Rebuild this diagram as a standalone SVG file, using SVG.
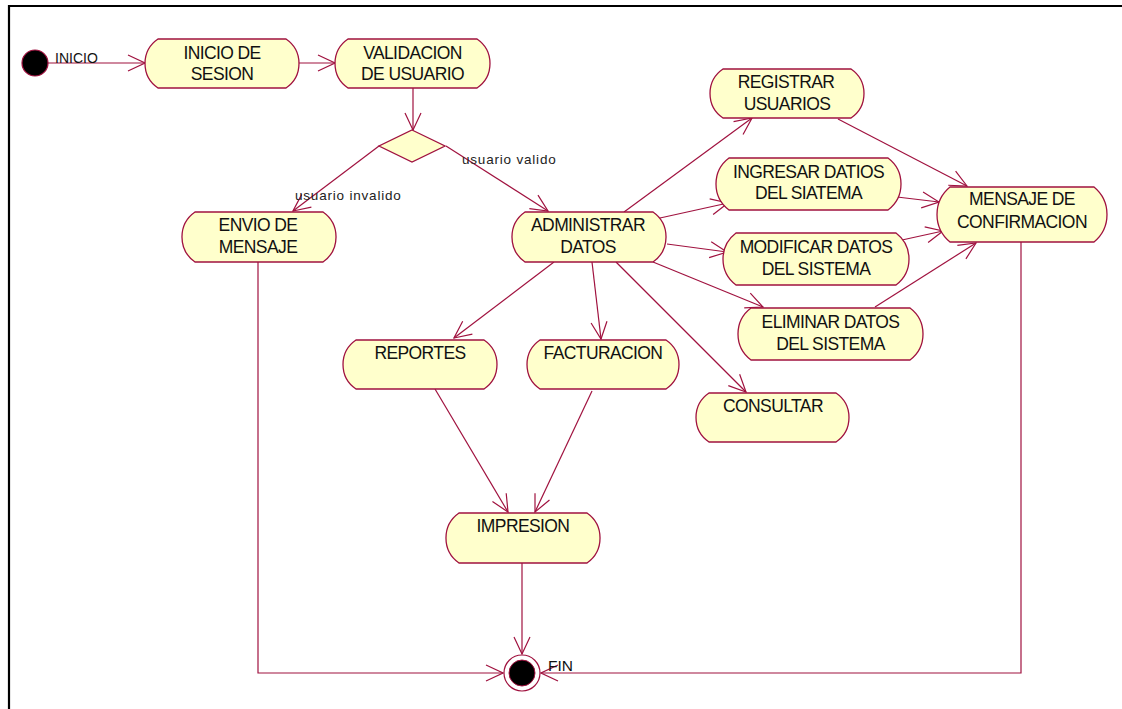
<svg xmlns="http://www.w3.org/2000/svg" width="1122" height="709" viewBox="0 0 1122 709">
  <defs>
    <style>
      .act { fill: #FFFFCC; stroke: #A0123F; stroke-width: 1.3; }
      .lbl { font-family: "Liberation Sans", Arial, sans-serif; font-size: 17.5px; letter-spacing: -0.6px; fill: #111; text-anchor: middle; }
      .note { font-family: "Liberation Sans", Arial, sans-serif; font-size: 13.5px; letter-spacing: 0.8px; fill: #222; }
      .edge { fill: none; stroke: #A0123F; stroke-width: 1.2; }
      .arr { marker-end: url(#open); }
    </style>
    <marker id="open" viewBox="0 0 19 18" refX="18" refY="9" markerWidth="19" markerHeight="18" markerUnits="userSpaceOnUse" orient="auto">
      <path d="M1,1 L18,9 L1,17" fill="none" stroke="#A0123F" stroke-width="1.2"/>
    </marker>
  </defs>

  <rect width="1122" height="709" fill="#ffffff"/>
  <!-- frame -->
  <path d="M9,709 V6 H1122" fill="none" stroke="#000" stroke-width="2.2"/>

  <!-- connectors -->
  <g id="connectors">
    <line class="edge arr" x1="48" y1="63" x2="145" y2="63"/>
    <line class="edge arr" x1="299" y1="63" x2="335" y2="63"/>
    <line class="edge arr" x1="413" y1="88" x2="413" y2="130"/>
    <line class="edge arr" x1="379" y1="146" x2="293" y2="211"/>
    <line class="edge arr" x1="446" y1="146" x2="548" y2="211"/>
    <line class="edge arr" x1="624" y1="212" x2="752" y2="118"/>
    <line class="edge arr" x1="660" y1="218" x2="728" y2="203"/>
    <line class="edge arr" x1="667" y1="244" x2="727" y2="252"/>
    <line class="edge arr" x1="653" y1="262" x2="763" y2="307"/>
    <line class="edge arr" x1="616" y1="262" x2="746" y2="392"/>
    <line class="edge arr" x1="592" y1="262" x2="601" y2="339"/>
    <line class="edge arr" x1="554" y1="262" x2="454" y2="338"/>
    <line class="edge arr" x1="838" y1="119" x2="967" y2="186"/>
    <line class="edge arr" x1="897" y1="197" x2="939" y2="202"/>
    <line class="edge arr" x1="902" y1="240" x2="943" y2="231"/>
    <line class="edge arr" x1="875" y1="307" x2="976" y2="243"/>
    <line class="edge arr" x1="435" y1="389" x2="508" y2="512"/>
    <line class="edge arr" x1="592" y1="391" x2="535" y2="512"/>
    <line class="edge arr" x1="522" y1="563" x2="522" y2="654"/>
    <polyline class="edge arr" points="258,262 258,673 503,673"/>
    <polyline class="edge arr" points="1021,242 1021,673 541,673"/>
    <text class="note" x="295" y="200">usuario invalido</text>
    <text class="note" x="462" y="164">usuario valido</text>
  </g>

  <!-- start -->
  <g id="start">
    <circle cx="35" cy="63" r="13" fill="#000" stroke="#A0123F" stroke-width="1.2"/>
    <text x="55" y="63" font-family="Liberation Sans, Arial, sans-serif" font-size="14" fill="#111">INICIO</text>
  </g>

  <g id="inicio-sesion">
    <path class="act" d="M158,39 H286 A29.6,29.6 0 0 1 286,88 H158 A29.6,29.6 0 0 1 158,39 Z"/>
    <text class="lbl" x="222" y="59">INICIO DE</text>
    <text class="lbl" x="222" y="80">SESION</text>
  </g>

  <g id="validacion">
    <path class="act" d="M348,39 H477 A29.6,29.6 0 0 1 477,88 H348 A29.6,29.6 0 0 1 348,39 Z"/>
    <text class="lbl" x="412.5" y="59">VALIDACION</text>
    <text class="lbl" x="412.5" y="80">DE USUARIO</text>
  </g>

  <g id="decision">
    <polygon class="act" points="412,130 445,146 412,162 379,146"/>
  </g>

  <g id="envio-mensaje">
    <path class="act" d="M195,212 H323 A30.5,30.5 0 0 1 323,262 H195 A30.5,30.5 0 0 1 195,212 Z"/>
    <text class="lbl" x="258" y="231">ENVIO DE</text>
    <text class="lbl" x="258" y="253">MENSAJE</text>
  </g>

  <g id="administrar">
    <path class="act" d="M525,212 H653 A30.5,30.5 0 0 1 653,262 H525 A30.5,30.5 0 0 1 525,212 Z"/>
    <text class="lbl" x="588" y="231">ADMINISTRAR</text>
    <text class="lbl" x="588" y="253">DATOS</text>
  </g>

  <g id="registrar">
    <path class="act" d="M723,69 H851 A29.6,29.6 0 0 1 851,118 H723 A29.6,29.6 0 0 1 723,69 Z"/>
    <text class="lbl" x="786" y="88">REGISTRAR</text>
    <text class="lbl" x="787" y="110">USUARIOS</text>
  </g>

  <g id="ingresar">
    <path class="act" d="M729,158 H888 A32.5,32.5 0 0 1 888,210 H729 A32.5,32.5 0 0 1 729,158 Z"/>
    <text class="lbl" x="808.5" y="178">INGRESAR DATIOS</text>
    <text class="lbl" x="808.5" y="199">DEL SIATEMA</text>
  </g>

  <g id="modificar">
    <path class="act" d="M736,233 H896 A32.5,32.5 0 0 1 896,285 H736 A32.5,32.5 0 0 1 736,233 Z"/>
    <text class="lbl" x="816" y="253">MODIFICAR DATOS</text>
    <text class="lbl" x="816" y="275">DEL SISTEMA</text>
  </g>

  <g id="eliminar">
    <path class="act" d="M751,308 H910 A32.5,32.5 0 0 1 910,360 H751 A32.5,32.5 0 0 1 751,308 Z"/>
    <text class="lbl" x="830.5" y="328">ELIMINAR DATOS</text>
    <text class="lbl" x="830.5" y="350">DEL SISTEMA</text>
  </g>

  <g id="confirmacion">
    <path class="act" d="M950,187 H1094 A35.6,35.6 0 0 1 1094,242 H950 A35.6,35.6 0 0 1 950,187 Z"/>
    <text class="lbl" x="1022" y="205">MENSAJE DE</text>
    <text class="lbl" x="1022" y="228">CONFIRMACION</text>
  </g>

  <g id="reportes">
    <path class="act" d="M356,340 H484 A29.6,29.6 0 0 1 484,389 H356 A29.6,29.6 0 0 1 356,340 Z"/>
    <text class="lbl" x="420" y="359">REPORTES</text>
  </g>

  <g id="facturacion">
    <path class="act" d="M540,340 H666 A29.6,29.6 0 0 1 666,389 H540 A29.6,29.6 0 0 1 540,340 Z"/>
    <text class="lbl" x="603" y="359">FACTURACION</text>
  </g>

  <g id="consultar">
    <path class="act" d="M709,393 H836 A29.6,29.6 0 0 1 836,442 H709 A29.6,29.6 0 0 1 709,393 Z"/>
    <text class="lbl" x="773" y="412">CONSULTAR</text>
  </g>

  <g id="impresion">
    <path class="act" d="M459,513 H587 A30.5,30.5 0 0 1 587,563 H459 A30.5,30.5 0 0 1 459,513 Z"/>
    <text class="lbl" x="523" y="532">IMPRESION</text>
  </g>

  <!-- end -->
  <g id="fin">
    <circle cx="522" cy="673" r="18" fill="#fff" stroke="#A0123F" stroke-width="1.2"/>
    <circle cx="522" cy="673" r="13" fill="#000" stroke="#A0123F" stroke-width="1"/>
    <text x="548" y="671" font-family="Liberation Sans, Arial, sans-serif" font-size="15.5" fill="#111">FIN</text>
  </g>
</svg>
